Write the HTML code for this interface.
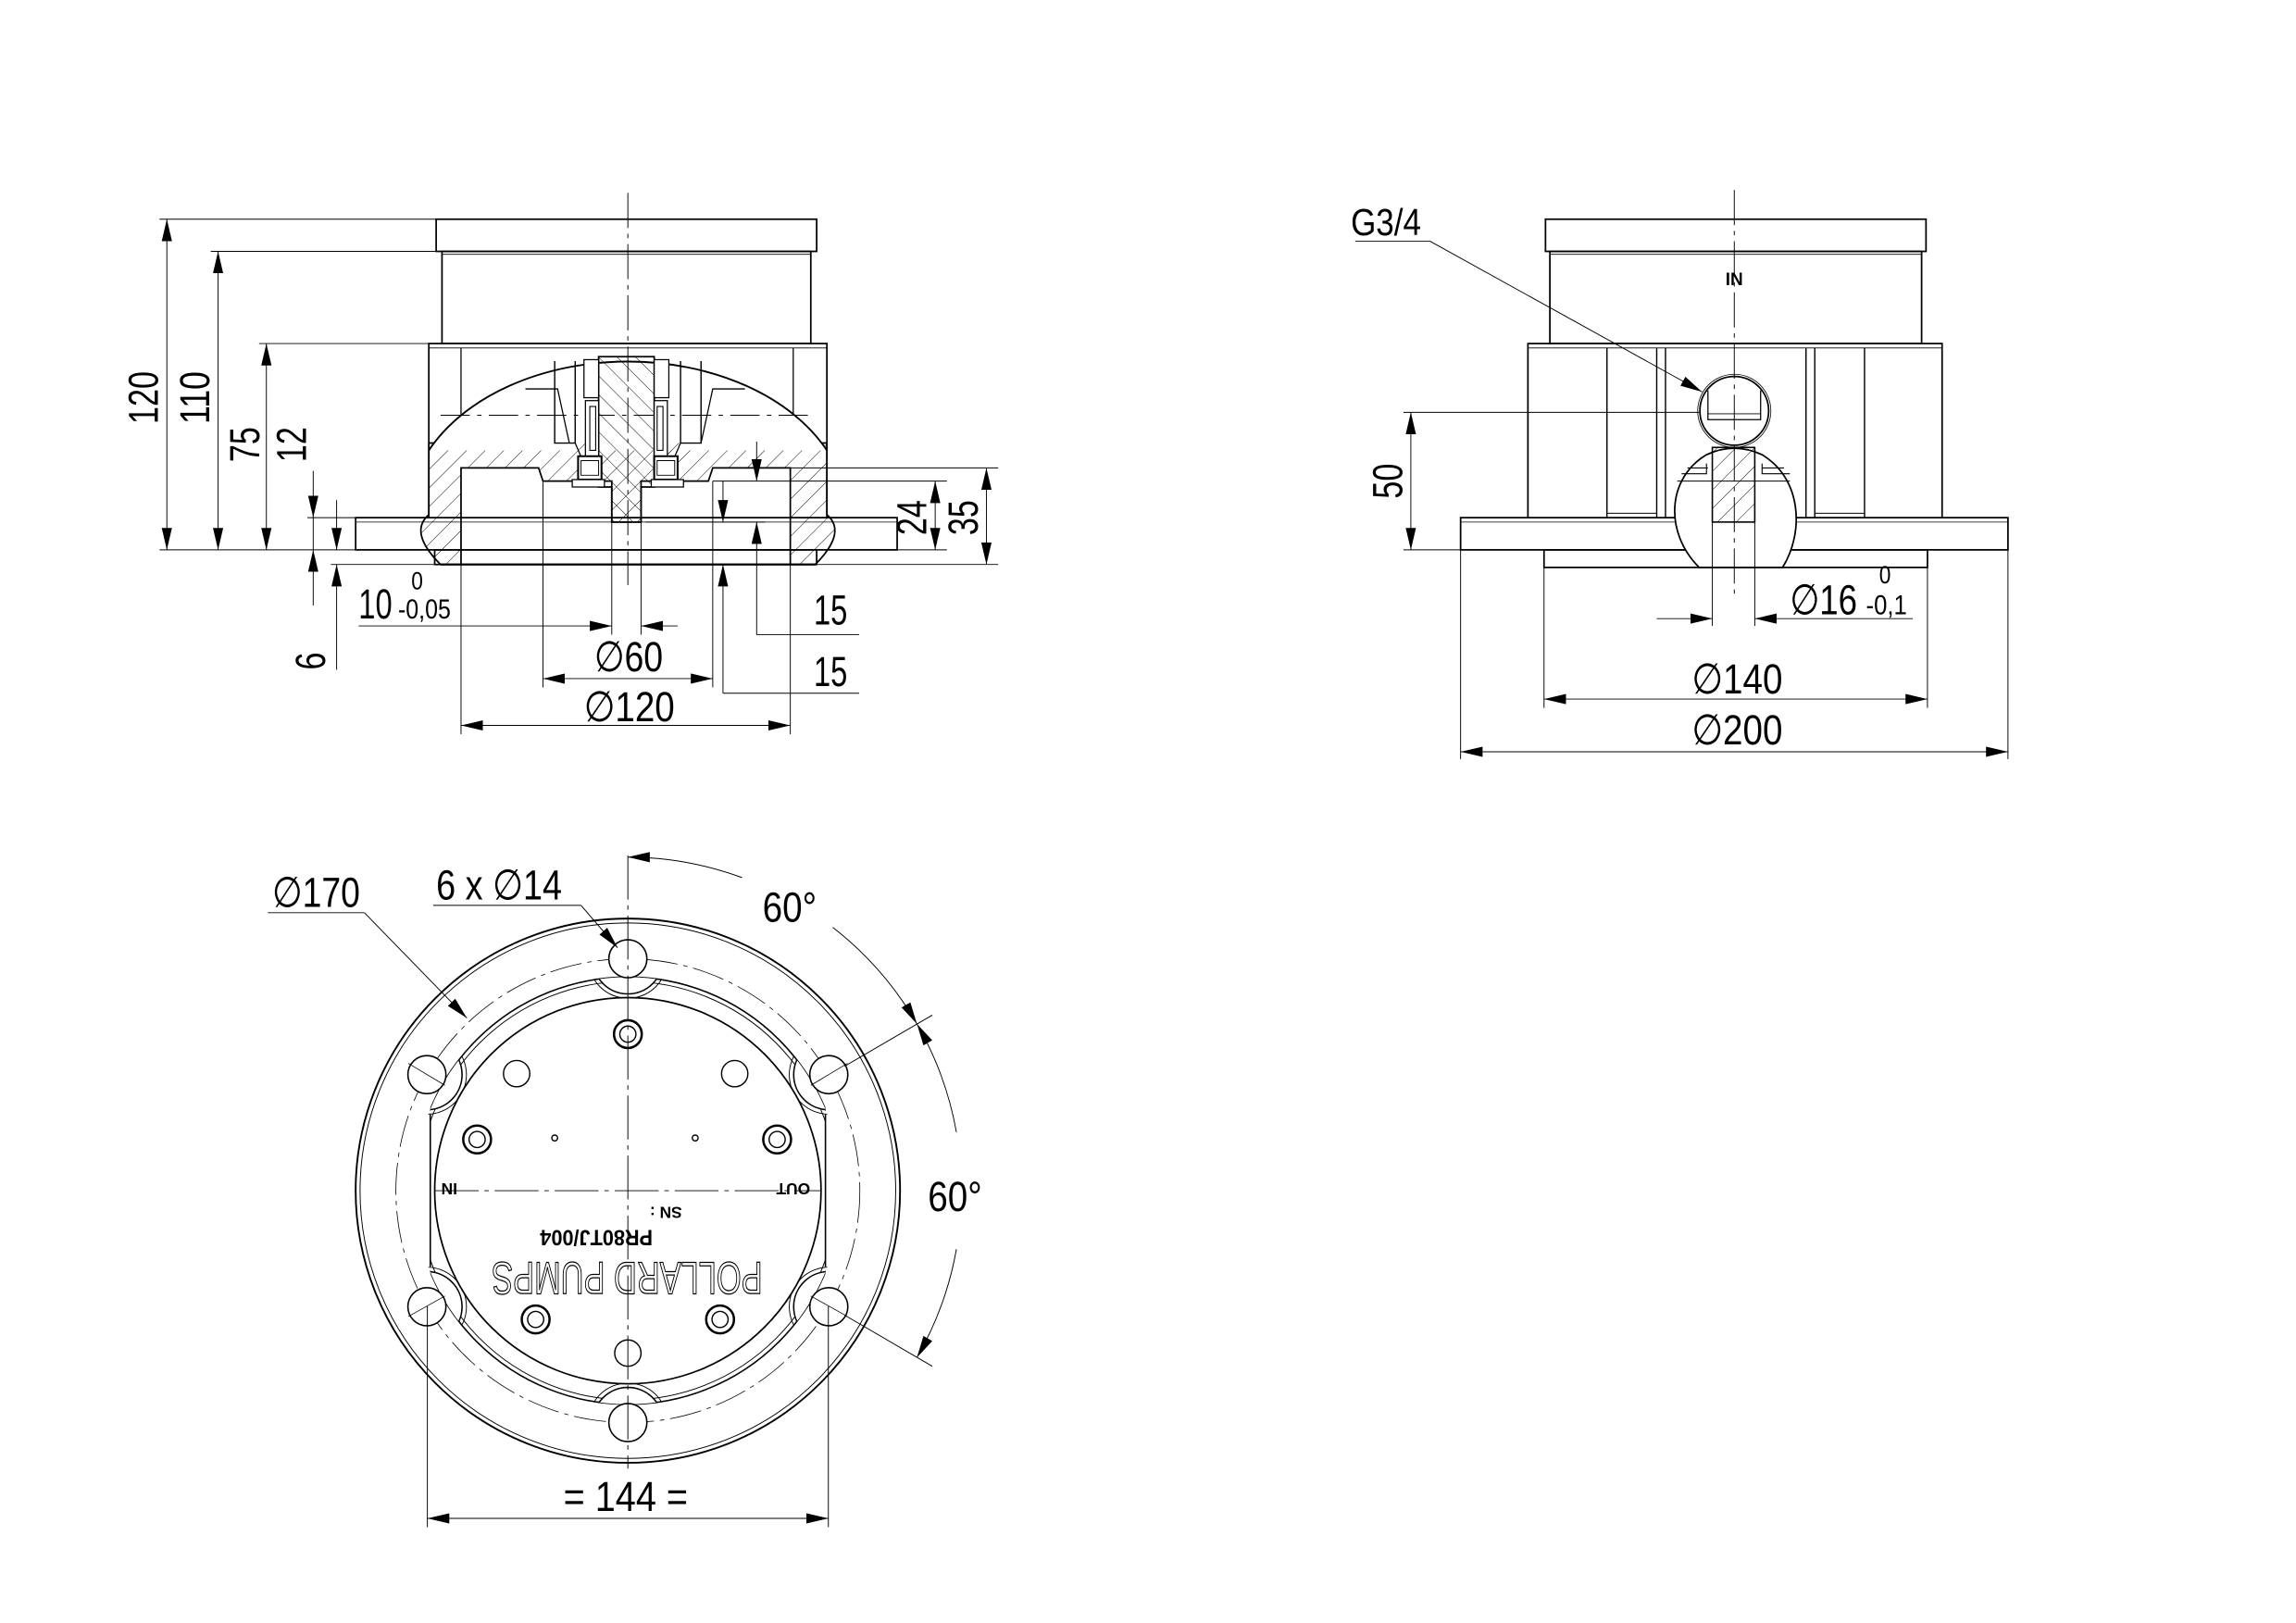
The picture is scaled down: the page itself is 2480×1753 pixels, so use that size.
<!DOCTYPE html>
<html><head><meta charset="utf-8"><style>
html,body{margin:0;padding:0;background:#fff}
svg{display:block}
text{font-family:"Liberation Sans",sans-serif;fill:#000}
</style></head><body>
<svg width="2480" height="1753" viewBox="0 0 1550 1096" preserveAspectRatio="none" xmlns="http://www.w3.org/2000/svg">
<defs>
<marker id="a" markerUnits="userSpaceOnUse" markerWidth="16" markerHeight="8" refX="15" refY="3.5" orient="auto-start-reverse"><path d="M0,0 L15,3.5 L0,7 z" fill="#000"/></marker>
<pattern id="h" patternUnits="userSpaceOnUse" width="9" height="9" patternTransform="rotate(45)"><line x1="0" y1="0" x2="0" y2="9" stroke="#000" stroke-width="0.6"/></pattern>
<pattern id="h2" patternUnits="userSpaceOnUse" width="9" height="9" patternTransform="rotate(-45)"><line x1="0" y1="0" x2="0" y2="9" stroke="#000" stroke-width="0.6"/></pattern>
<clipPath id="plate"><rect x="293" y="600" width="270" height="420"/></clipPath>
<clipPath id="platec"><circle cx="428" cy="812" r="146"/></clipPath>
</defs>
<rect width="1550" height="1096" fill="#fff"/>
<g transform="matrix(0.988,0,0,0.988,1,1.8)">
<g fill="none" stroke="#000" stroke-width="1.1">
<!-- ================= FRONT VIEW ================= -->
<rect x="297" y="148" width="260" height="22"/>
<rect x="301" y="170" width="252" height="63"/>
<line x1="301" y1="172" x2="553" y2="172" stroke-width="0.6"/>
<rect x="242" y="352" width="370" height="22"/>
<line x1="242" y1="355" x2="612" y2="355" stroke-width="0.5"/>
<rect x="296" y="374" width="261" height="10"/>
<rect x="292" y="233" width="272" height="119" fill="#fff"/>
<line x1="292" y1="236" x2="564" y2="236" stroke-width="0.6"/>
<line x1="314" y1="236" x2="314" y2="301" stroke-width="0.8"/>
<line x1="541" y1="236" x2="541" y2="301" stroke-width="0.8"/>
<path d="M292,301 L564,301 L564,350 Q578,362 556,384 L300,384 Q278,362 292,350 Z M314,384 L314,318 L367,318 L370,327 L417,327 L417,355 L437,355 L437,327 L483,327 L486,318 L539,318 L539,384 Z" fill="url(#h)" fill-rule="evenodd" stroke-width="1.1"/>
<path d="M292,306 A150,105 0 0 1 564,306" fill="#fff" stroke-width="1.2"/>
<line x1="300" y1="282" x2="555" y2="282" stroke-width="0.6" stroke-dasharray="20,5,3,5"/>
<path d="M358,264 L380,264 L388,301 M478,301 L486,264 L508,264" stroke-width="0.8"/>
<path d="M378,245 L378,301 L392,301 L392,245 M464,245 L464,301 L478,301 L478,245" stroke-width="0.9"/>
<path d="M392,301 L398,315 L406,301 M464,301 L458,315 L450,301" fill="url(#h)" stroke-width="0.8"/>
<path d="M408,242 L446,242 L446,331 L437,331 L437,355 L417,355 L417,331 L408,331 Z" fill="url(#h2)" stroke-width="1.1"/>
<rect x="398" y="244" width="10" height="26" stroke-width="0.8" fill="#fff"/>
<rect x="446" y="244" width="10" height="26" stroke-width="0.8" fill="#fff"/>
<rect x="399" y="272" width="9" height="38" stroke-width="0.8" fill="#fff"/>
<rect x="446" y="272" width="9" height="38" stroke-width="0.8" fill="#fff"/>
<rect x="402" y="276" width="4" height="30" stroke-width="0.7"/>
<rect x="448" y="276" width="4" height="30" stroke-width="0.7"/>
<path d="M394,310 L410,310 L410,326 L394,326 Z M446,310 L462,310 L462,326 L446,326 Z" stroke-width="1.3" fill="#fff"/>
<path d="M396,313 L408,313 L408,323 L396,323 Z M448,313 L460,313 L460,323 L448,323 Z" stroke-width="0.6"/>
<path d="M390,326 L412,326 L412,331 L390,331 Z M444,326 L466,326 L466,331 L444,331 Z" stroke-width="0.8" fill="#fff"/>
<line x1="300" y1="384" x2="556" y2="384" stroke-width="1.4"/>
<line x1="428" y1="130" x2="428" y2="398" stroke-width="0.6" stroke-dasharray="24,4,3,4"/>
<g stroke-width="0.6">
<line x1="108" y1="148" x2="297" y2="148"/>
<line x1="143" y1="170" x2="297" y2="170"/>
<line x1="176" y1="233" x2="292" y2="233"/>
<line x1="108" y1="374" x2="242" y2="374"/>
<line x1="209" y1="352" x2="242" y2="352"/>
<line x1="225" y1="384" x2="296" y2="384"/>
<line x1="113" y1="148" x2="113" y2="374" marker-start="url(#a)" marker-end="url(#a)"/>
<line x1="148" y1="170" x2="148" y2="374" marker-start="url(#a)" marker-end="url(#a)"/>
<line x1="181" y1="233" x2="181" y2="374" marker-start="url(#a)" marker-end="url(#a)"/>
<line x1="213" y1="320" x2="213" y2="352" marker-end="url(#a)"/>
<line x1="213" y1="412" x2="213" y2="374" marker-end="url(#a)"/>
<line x1="213" y1="352" x2="213" y2="374"/>
<line x1="229" y1="340" x2="229" y2="374" marker-end="url(#a)"/>
<line x1="229" y1="456" x2="229" y2="384" marker-end="url(#a)"/>
<line x1="417" y1="355" x2="417" y2="432"/>
<line x1="437" y1="355" x2="437" y2="432"/>
<line x1="244" y1="426" x2="417" y2="426" marker-end="url(#a)"/>
<line x1="462" y1="426" x2="437" y2="426" marker-end="url(#a)"/>
<line x1="370" y1="327" x2="370" y2="468"/>
<line x1="486" y1="327" x2="486" y2="468"/>
<line x1="370" y1="462" x2="486" y2="462" marker-start="url(#a)" marker-end="url(#a)"/>
<line x1="314" y1="384" x2="314" y2="500"/>
<line x1="539" y1="384" x2="539" y2="500"/>
<line x1="314" y1="494" x2="539" y2="494" marker-start="url(#a)" marker-end="url(#a)"/>
<line x1="516" y1="300" x2="516" y2="327" marker-end="url(#a)"/>
<line x1="516" y1="432" x2="516" y2="355" marker-end="url(#a)"/>
<line x1="516" y1="432" x2="586" y2="432"/>
<line x1="440" y1="355" x2="522" y2="355"/>
<line x1="493" y1="327" x2="493" y2="355" marker-end="url(#a)"/>
<line x1="493" y1="472" x2="493" y2="384" marker-end="url(#a)"/>
<line x1="493" y1="472" x2="586" y2="472"/>
<line x1="486" y1="327" x2="646" y2="327"/>
<line x1="539" y1="318" x2="681" y2="318"/>
<line x1="612" y1="374" x2="646" y2="374"/>
<line x1="556" y1="384" x2="681" y2="384"/>
<line x1="638" y1="327" x2="638" y2="374" marker-start="url(#a)" marker-end="url(#a)"/>
<line x1="673" y1="318" x2="673" y2="384" marker-start="url(#a)" marker-end="url(#a)"/>
</g>

<!-- ================= SIDE VIEW ================= -->
<rect x="1055" y="148" width="260" height="22"/>
<rect x="1058" y="170" width="254" height="63"/>
<line x1="1058" y1="172" x2="1312" y2="172" stroke-width="0.6"/>
<rect x="997" y="352" width="374" height="22"/>
<line x1="997" y1="355" x2="1371" y2="355" stroke-width="0.5"/>
<rect x="1054" y="374" width="262" height="12"/>
<rect x="1043" y="233" width="283" height="119" fill="#fff"/>
<line x1="1043" y1="236" x2="1326" y2="236" stroke-width="0.6"/>
<path d="M1097,236 L1097,352 M1131,236 L1131,352 M1137,236 L1137,352 M1233,236 L1233,352 M1239,236 L1239,352 M1273,236 L1273,352" stroke-width="0.9"/>
<line x1="1097" y1="349" x2="1131" y2="349" stroke-width="0.6"/>
<line x1="1239" y1="349" x2="1273" y2="349" stroke-width="0.6"/>
<circle cx="1184" cy="279" r="23.5" fill="#fff"/>
<circle cx="1184" cy="279" r="25" stroke-width="0.5"/>
<path d="M1166,265 L1166,285 L1202,285 L1202,265" stroke-width="0.8"/>
<line x1="1166" y1="281" x2="1202" y2="281" stroke-width="0.5"/>
<path d="M1160,386 C1136,362 1138,325 1165,309 Q1184,300 1203,309 C1230,325 1232,362 1217,386 Z" fill="#fff" stroke-width="1.1"/>
<rect x="1169" y="304" width="29" height="51" fill="url(#h)" stroke-width="1"/>
<path d="M1148,322 L1165,322 L1165,315 M1152,318 L1166,318 M1203,315 L1203,322 L1222,322 M1203,318 L1218,318" stroke-width="0.7"/>
<line x1="1145" y1="327" x2="1222" y2="327" stroke-width="0.6"/>
<line x1="1184" y1="128" x2="1184" y2="404" stroke-width="0.6" stroke-dasharray="24,4,3,4"/>
<g stroke-width="0.6">
<line x1="958" y1="280" x2="1160" y2="280"/>
<line x1="958" y1="374" x2="997" y2="374"/>
<line x1="963" y1="280" x2="963" y2="374" marker-start="url(#a)" marker-end="url(#a)"/>
<line x1="925" y1="163" x2="976" y2="163"/>
<line x1="976" y1="163" x2="1162" y2="266" marker-end="url(#a)"/>
<line x1="1169" y1="355" x2="1169" y2="426"/>
<line x1="1198" y1="355" x2="1198" y2="426"/>
<line x1="1131" y1="421" x2="1169" y2="421" marker-end="url(#a)"/>
<line x1="1306" y1="421" x2="1198" y2="421" marker-end="url(#a)"/>
<line x1="1054" y1="386" x2="1054" y2="482"/>
<line x1="1316" y1="386" x2="1316" y2="482"/>
<line x1="1054" y1="476" x2="1316" y2="476" marker-start="url(#a)" marker-end="url(#a)"/>
<line x1="997" y1="374" x2="997" y2="517"/>
<line x1="1371" y1="374" x2="1371" y2="517"/>
<line x1="997" y1="512" x2="1371" y2="512" marker-start="url(#a)" marker-end="url(#a)"/>
</g>

<!-- ================= TOP VIEW ================= -->
<circle cx="428" cy="812" r="186" stroke-width="1.2"/>
<circle cx="428" cy="812" r="183" stroke-width="0.6"/>
<g clip-path="url(#plate)">
<circle cx="428" cy="812" r="146" stroke-width="1"/>
<circle cx="428" cy="812" r="143" stroke-width="0.6"/>
</g>
<line x1="293" y1="760" x2="293" y2="864" stroke-width="1"/>
<line x1="563" y1="760" x2="563" y2="864" stroke-width="1"/>
<g clip-path="url(#platec)">
<g fill="#fff" stroke-width="1">
<circle cx="428" cy="653.5" r="24"/><circle cx="428" cy="970.5" r="24"/>
<circle cx="290.7" cy="732.7" r="24"/><circle cx="565.3" cy="732.7" r="24"/>
<circle cx="290.7" cy="891.3" r="24"/><circle cx="565.3" cy="891.3" r="24"/>
</g>
<g stroke-width="0.6">
<circle cx="428" cy="653.5" r="27"/><circle cx="428" cy="970.5" r="27"/>
<circle cx="290.7" cy="732.7" r="27"/><circle cx="565.3" cy="732.7" r="27"/>
<circle cx="290.7" cy="891.3" r="27"/><circle cx="565.3" cy="891.3" r="27"/>
</g>
</g>
<circle cx="428" cy="812" r="132" fill="#fff" stroke-width="1.1"/>
<circle cx="428" cy="812" r="158.5" stroke-width="0.5" stroke-dasharray="22,4,3,4"/>
<g fill="#fff" stroke-width="1">
<circle cx="428" cy="653.5" r="13"/><circle cx="428" cy="970.5" r="13"/>
<circle cx="290.7" cy="732.7" r="13"/><circle cx="565.3" cy="732.7" r="13"/>
<circle cx="290.7" cy="891.3" r="13"/><circle cx="565.3" cy="891.3" r="13"/>
</g>
<g stroke-width="0.5">
<line x1="278" y1="725" x2="303" y2="740"/><line x1="553" y1="740" x2="578" y2="725"/>
<line x1="278" y1="898" x2="303" y2="884"/><line x1="553" y1="884" x2="578" y2="898"/>
</g>
<g stroke-width="1.6">
<circle cx="428" cy="705" r="9.5"/><circle cx="325" cy="777" r="9.5"/><circle cx="530" cy="777" r="9.5"/>
<circle cx="365" cy="900" r="9.5"/><circle cx="491" cy="900" r="9.5"/>
</g>
<g stroke-width="0.9">
<circle cx="428" cy="705" r="5.5"/><circle cx="325" cy="777" r="5.5"/><circle cx="530" cy="777" r="5.5"/>
<circle cx="365" cy="900" r="5.5"/><circle cx="491" cy="900" r="5.5"/>
<circle cx="352" cy="732" r="9"/><circle cx="501" cy="732" r="9"/><circle cx="428" cy="923" r="9"/>
<circle cx="378" cy="776" r="2"/><circle cx="474" cy="776" r="2"/>
</g>
<line x1="296" y1="812" x2="560" y2="812" stroke-width="0.6" stroke-dasharray="30,4,3,4"/>
<line x1="428" y1="583" x2="428" y2="1002" stroke-width="0.6" stroke-dasharray="30,4,3,4"/>
<g stroke-width="0.6">
<line x1="182" y1="622" x2="248" y2="622"/>
<line x1="248" y1="622" x2="318" y2="694" marker-end="url(#a)"/>
<line x1="295" y1="617" x2="396" y2="617"/>
<line x1="396" y1="617" x2="421" y2="646" marker-end="url(#a)"/>
<path d="M428,584 A228,228 0 0 1 506,598" marker-start="url(#a)"/>
<path d="M568,632 A228,228 0 0 1 625.5,698" marker-end="url(#a)"/>
<path d="M625.5,698 A228,228 0 0 1 652.5,772" marker-start="url(#a)"/>
<path d="M652.5,852 A228,228 0 0 1 625.5,926" marker-end="url(#a)"/>
<line x1="576" y1="727" x2="636" y2="692"/>
<line x1="576" y1="897" x2="636" y2="932"/>
<line x1="291" y1="891" x2="291" y2="1042"/>
<line x1="565" y1="891" x2="565" y2="1042"/>
<line x1="291" y1="1036" x2="565" y2="1036" marker-start="url(#a)" marker-end="url(#a)"/>
</g>
</g>

<!-- TEXT -->
<g font-size="29">
<text transform="translate(107,270) rotate(-90)" text-anchor="middle" textLength="36" lengthAdjust="spacingAndGlyphs">120</text>
<text transform="translate(142,270) rotate(-90)" text-anchor="middle" textLength="36" lengthAdjust="spacingAndGlyphs">110</text>
<text transform="translate(176,302) rotate(-90)" text-anchor="middle" textLength="24" lengthAdjust="spacingAndGlyphs">75</text>
<text transform="translate(208,302) rotate(-90)" text-anchor="middle" textLength="24" lengthAdjust="spacingAndGlyphs">12</text>
<text transform="translate(221,450) rotate(-90)" text-anchor="middle" textLength="12" lengthAdjust="spacingAndGlyphs">6</text>
<text transform="translate(632,352) rotate(-90)" text-anchor="middle" textLength="24" lengthAdjust="spacingAndGlyphs">24</text>
<text transform="translate(667,352) rotate(-90)" text-anchor="middle" textLength="24" lengthAdjust="spacingAndGlyphs">35</text>
<text transform="translate(957,327) rotate(-90)" text-anchor="middle" textLength="24" lengthAdjust="spacingAndGlyphs">50</text>
<text x="244" y="421" textLength="23" lengthAdjust="spacingAndGlyphs">10</text>
<text x="280" y="401" font-size="17" textLength="8" lengthAdjust="spacingAndGlyphs">0</text>
<text x="271" y="421" font-size="19" textLength="36" lengthAdjust="spacingAndGlyphs">-0,05</text>
<text x="405" y="457" textLength="47" lengthAdjust="spacingAndGlyphs">∅60</text>
<text x="398" y="491" textLength="62" lengthAdjust="spacingAndGlyphs">∅120</text>
<text x="555" y="425" textLength="23" lengthAdjust="spacingAndGlyphs">15</text>
<text x="555" y="467" textLength="23" lengthAdjust="spacingAndGlyphs">15</text>
<text x="922" y="159" font-size="26" textLength="48" lengthAdjust="spacingAndGlyphs">G3/4</text>
<text x="1222" y="418" textLength="46" lengthAdjust="spacingAndGlyphs">∅16</text>
<text x="1283" y="397" font-size="17" textLength="8" lengthAdjust="spacingAndGlyphs">0</text>
<text x="1274" y="418" font-size="19" textLength="28" lengthAdjust="spacingAndGlyphs">-0,1</text>
<text x="1155" y="472" textLength="62" lengthAdjust="spacingAndGlyphs">∅140</text>
<text x="1155" y="507" textLength="62" lengthAdjust="spacingAndGlyphs">∅200</text>
<text x="185" y="618" textLength="60" lengthAdjust="spacingAndGlyphs">∅170</text>
<text x="297" y="613" textLength="86" lengthAdjust="spacingAndGlyphs">6 x ∅14</text>
<text x="520" y="628" textLength="37" lengthAdjust="spacingAndGlyphs">60°</text>
<text x="633" y="826" textLength="37" lengthAdjust="spacingAndGlyphs">60°</text>
<text x="384" y="1031" textLength="85" lengthAdjust="spacingAndGlyphs">= 144 =</text>
</g>
<text x="1184" y="193" font-size="12" font-weight="bold" text-anchor="middle">IN</text>
<g font-weight="bold">
<text transform="translate(306,807) rotate(180)" font-size="11" text-anchor="middle">IN</text>
<text transform="translate(541,807) rotate(180)" font-size="11" text-anchor="middle">OUT</text>
<text transform="translate(454,823) rotate(180)" font-size="11" text-anchor="middle">SN :</text>
<text transform="translate(445,839) rotate(180)" font-size="15" textLength="77" lengthAdjust="spacingAndGlyphs">PR80TJ/004</text>
</g>
<text transform="translate(520,861) rotate(180)" font-size="31" textLength="185" lengthAdjust="spacingAndGlyphs" fill="none" stroke="#000" stroke-width="0.8" style="fill:none">POLLARD PUMPS</text>
</g>
</svg>
</body></html>
